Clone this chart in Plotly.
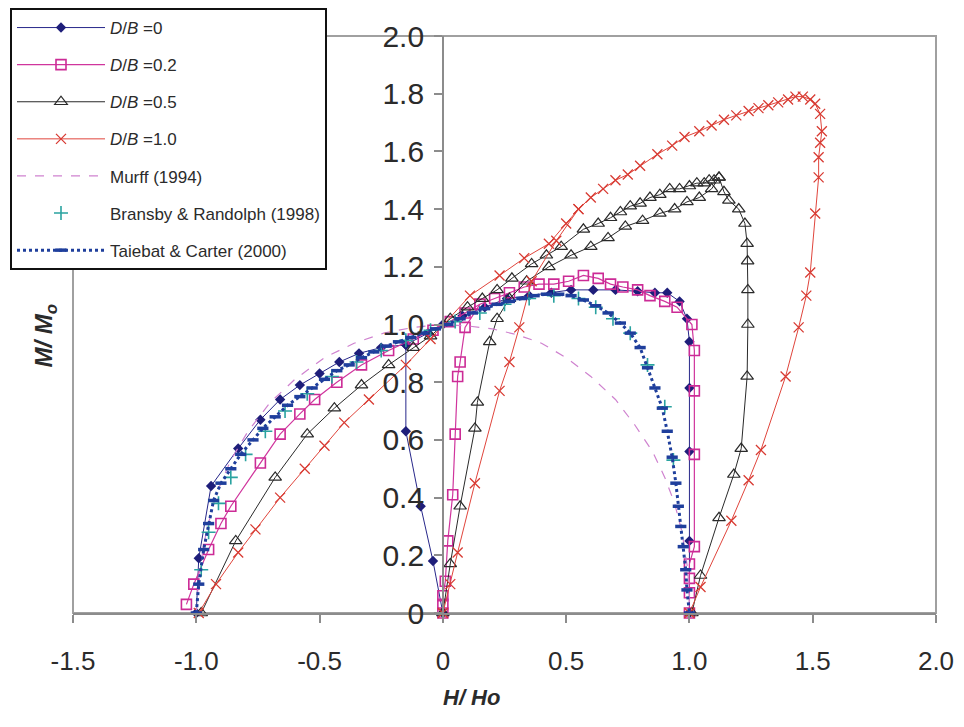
import plotly.graph_objects as go

# ---------------- data ----------------
# D/B = 0  (None separates the two branches of the envelope)
db0_h = [-1.00, -0.99, -0.94, -0.83, -0.74, -0.66, -0.58, -0.50, -0.42, -0.34, -0.25, -0.15, -0.06, 0.00,
         0.08, 0.17, 0.26, 0.35, 0.44, 0.52, 0.61, 0.70, 0.79, 0.86, 0.91, 0.96, 0.99, 1.00, 1.00, 1.00, 1.00, 1.00,
         None, 0.00, -0.04, -0.09, -0.15, -0.15]
db0_m = [0.00, 0.19, 0.44, 0.57, 0.67, 0.74, 0.79, 0.83, 0.87, 0.90, 0.92, 0.93, 0.97, 1.00,
         1.03, 1.06, 1.09, 1.10, 1.11, 1.12, 1.12, 1.12, 1.115, 1.11, 1.11, 1.08, 1.02, 0.94, 0.78, 0.56, 0.25, 0.00,
         None, 0.00, 0.18, 0.37, 0.63, 0.93]

# D/B = 0.2
db02_h = [-1.04, -1.01, -0.95, -0.90, -0.86, -0.74, -0.66, -0.58, -0.52, -0.43, -0.33, -0.22, -0.12, -0.04,
          0.03, 0.09, 0.15, 0.21, 0.27, 0.33, 0.39, 0.45, 0.51, 0.57, 0.63, 0.68, 0.73, 0.79, 0.84, 0.90, 0.95,
          1.01, 1.02, 1.02, 1.02, 1.02, 1.00, 1.00, 1.00, 1.00,
          None, 0.00, 0.00, 0.00, 0.01, 0.02, 0.04, 0.05, 0.06, 0.07, 0.09, 0.15]
db02_m = [0.03, 0.10, 0.22, 0.31, 0.37, 0.52, 0.62, 0.69, 0.74, 0.80, 0.86, 0.91, 0.95, 0.98,
          1.01, 1.04, 1.07, 1.09, 1.11, 1.13, 1.14, 1.14, 1.15, 1.17, 1.16, 1.14, 1.13, 1.12, 1.10, 1.08, 1.06,
          1.00, 0.91, 0.77, 0.55, 0.23, 0.17, 0.12, 0.07, 0.00,
          None, 0.00, 0.03, 0.06, 0.11, 0.25, 0.41, 0.62, 0.82, 0.87, 0.99, 1.07]

# D/B = 0.5
db05_h = [-0.98, -0.84, -0.68, -0.55, -0.44, -0.33, -0.22, -0.12, -0.05, 0.03, 0.10, 0.16, 0.22, 0.28, 0.36,
          0.42, 0.48, 0.57, 0.63, 0.68, 0.72, 0.76, 0.80, 0.84, 0.88, 0.92, 0.96, 1.00, 1.03, 1.06, 1.08, 1.10,
          1.12, 1.14, 1.16, 1.20, 1.225, 1.234, 1.236, 1.237, 1.237, 1.234, 1.21, 1.18, 1.12, 1.045, 1.01,
          None, 0.00, 0.03, 0.07, 0.13, 0.14, 0.19, 0.22, 0.27, 0.34, 0.43, 0.52, 0.60, 0.67, 0.74, 0.81, 0.88,
          0.94, 0.99, 1.04, 1.09, 1.12]
db05_m = [0.00, 0.25, 0.47, 0.62, 0.71, 0.79, 0.86, 0.92, 0.96, 1.02, 1.06, 1.09, 1.12, 1.16, 1.21,
          1.24, 1.27, 1.33, 1.35, 1.37, 1.39, 1.41, 1.42, 1.44, 1.45, 1.47, 1.47, 1.48, 1.49, 1.49, 1.50, 1.50,
          1.51, 1.46, 1.43, 1.40, 1.35, 1.28, 1.22, 1.12, 1.00, 0.82, 0.57, 0.48, 0.33, 0.13, 0.00,
          None, 0.00, 0.17, 0.37, 0.64, 0.73, 0.94, 1.02, 1.09, 1.15, 1.20, 1.24, 1.27, 1.30, 1.34, 1.36, 1.385,
          1.40, 1.425, 1.44, 1.47, 1.51]

# D/B = 1.0
db10_h = [-0.99, -0.92, -0.83, -0.76, -0.66, -0.56, -0.48, -0.40, -0.30, -0.15, -0.05, 0.11, 0.23, 0.33, 0.43,
          0.50, 0.55, 0.60, 0.65, 0.70, 0.75, 0.80, 0.87, 0.93, 0.98, 1.04, 1.09, 1.14, 1.19, 1.24, 1.28, 1.32,
          1.36, 1.40, 1.43, 1.46, 1.49, 1.51, 1.53, 1.537, 1.53, 1.524, 1.524, 1.51, 1.49, 1.474, 1.443, 1.39,
          1.29, 1.24, 1.17, 1.045, 1.00,
          None, 0.00, 0.03, 0.06, 0.13, 0.23, 0.27, 0.31, 0.36, 0.46, 0.55]
db10_m = [0.00, 0.10, 0.21, 0.29, 0.40, 0.50, 0.58, 0.66, 0.74, 0.86, 0.95, 1.10, 1.17, 1.23, 1.28,
          1.35, 1.40, 1.44, 1.47, 1.50, 1.52, 1.55, 1.59, 1.62, 1.65, 1.67, 1.69, 1.71, 1.725, 1.74, 1.75, 1.76,
          1.77, 1.78, 1.79, 1.79, 1.78, 1.765, 1.73, 1.67, 1.63, 1.58, 1.51, 1.385, 1.18, 1.10, 0.99, 0.82,
          0.565, 0.46, 0.32, 0.09, 0.00,
          None, 0.00, 0.10, 0.21, 0.45, 0.77, 0.87, 0.99, 1.15, 1.29, 1.40]

# Murff (1994)
murff_h = [-1.00, -0.99, -0.96, -0.92, -0.86, -0.79, -0.70, -0.60, -0.48, -0.36, -0.24, -0.12, 0.00, 0.10,
           0.20, 0.30, 0.40, 0.50, 0.60, 0.70, 0.78, 0.85, 0.90, 0.94, 0.97, 0.99, 1.00, 1.00]
murff_m = [0.00, 0.13, 0.28, 0.41, 0.53, 0.63, 0.73, 0.81, 0.885, 0.935, 0.97, 0.99, 1.00, 0.995,
           0.985, 0.965, 0.935, 0.885, 0.82, 0.74, 0.65, 0.56, 0.47, 0.38, 0.28, 0.17, 0.08, 0.00]

# Bransby & Randolph (1998)
bransby_h = [-0.98, -0.95, -0.91, -0.86, -0.80, -0.72, -0.64, -0.55, -0.45, -0.35, -0.25, -0.15, -0.05, 0.05,
             0.15, 0.25, 0.35, 0.45, 0.55, 0.62, 0.69, 0.76, 0.83, 0.90, 0.935]
bransby_m = [0.15, 0.28, 0.38, 0.47, 0.55, 0.63, 0.70, 0.76, 0.82, 0.87, 0.91, 0.945, 0.98, 1.01,
             1.04, 1.07, 1.09, 1.10, 1.09, 1.06, 1.02, 0.97, 0.86, 0.715, 0.53]

# Taiebat & Carter (2000)
taiebat_h = [-1.00, -0.99, -0.97, -0.95, -0.93, -0.90, -0.86, -0.82, -0.77, -0.73, -0.68, -0.63, -0.58, -0.53,
             -0.48, -0.43, -0.38, -0.33, -0.28, -0.23, -0.18, -0.13, -0.08, -0.03, 0.02, 0.07, 0.12, 0.17, 0.22,
             0.27, 0.32, 0.37, 0.42, 0.47, 0.52, 0.57, 0.62, 0.67, 0.72, 0.76, 0.80, 0.83, 0.86, 0.89, 0.91,
             0.93, 0.945, 0.955, 0.965, 0.975, 0.985, 0.99, 1.00]
taiebat_m = [0.00, 0.10, 0.22, 0.31, 0.39, 0.45, 0.50, 0.55, 0.60, 0.64, 0.68, 0.72, 0.75, 0.78,
             0.81, 0.84, 0.86, 0.885, 0.905, 0.925, 0.94, 0.955, 0.97, 0.985, 1.00, 1.02, 1.04, 1.055, 1.07,
             1.08, 1.09, 1.10, 1.105, 1.105, 1.10, 1.085, 1.065, 1.04, 1.005, 0.97, 0.92, 0.85, 0.78, 0.71, 0.63,
             0.54, 0.45, 0.37, 0.30, 0.23, 0.15, 0.08, 0.00]

x_tickvals = [-1.5, -1.0, -0.5, 0.0, 0.5, 1.0, 1.5, 2.0]
x_ticktext = ["-1.5", "-1.0", "-0.5", "0", "0.5", "1.0", "1.5", "2.0"]
y_tickvals = [0.0, 0.2, 0.4, 0.6, 0.8, 1.0, 1.2, 1.4, 1.6, 1.8, 2.0]
y_ticktext = ["0", "0.2", "0.4", "0.6", "0.8", "1.0", "1.2", "1.4", "1.6", "1.8", "2.0"]

# ---------------- figure ----------------
FONT = "Liberation Sans, Arial, sans-serif"
TXT = "#2b2b2b"

fig = go.Figure()

def add(name, h, m, group, **kw):
    fig.add_trace(go.Scatter(x=h, y=m, name=name, legendgroup=group, cliponaxis=False, **kw))

add("<i>D</i>/<i>B</i> =0", db0_h, db0_m, "a", mode="lines+markers",
    line=dict(color="#27278a", width=1),
    marker=dict(symbol="diamond", size=8, color="#1e1e7a"))
add("<i>D</i>/<i>B</i> =0.2", db02_h, db02_m, "b", mode="lines+markers",
    line=dict(color="#d0359d", width=1.2),
    marker=dict(symbol="square-open", size=10, color="#cc2b96", line=dict(width=1.6, color="#cc2b96")))
add("<i>D</i>/<i>B</i> =0.5", db05_h, db05_m, "c", mode="lines+markers",
    line=dict(color="#2a2a2a", width=1),
    marker=dict(symbol="triangle-up-open", size=11, color="#2a2a2a", line=dict(width=1.2, color="#2a2a2a")))
add("<i>D</i>/<i>B</i> =1.0", db10_h, db10_m, "d", mode="lines+markers",
    line=dict(color="#e0453c", width=1),
    marker=dict(symbol="x-thin", size=10, color="#d83a32", line=dict(width=1.3, color="#d83a32")))
add("Murff (1994)", murff_h, murff_m, "e", mode="lines",
    line=dict(color="#cf82cf", width=1.2, dash="dash"))
add("Bransby & Randolph (1998)", bransby_h, bransby_m, "f", mode="markers",
    marker=dict(symbol="cross-thin", size=10, color="#2aa3a0", line=dict(width=1.6, color="#2aa3a0")))
add("Taiebat & Carter (2000)", taiebat_h, taiebat_m, "g", mode="lines+markers",
    line=dict(color="#1f3f9c", width=3, dash="dot"),
    marker=dict(symbol="line-ew", size=8, color="#1f3f9c", line=dict(width=3.5, color="#1f3f9c")))

# the page body adds an 8 px offset, so the figure is laid out in page pixels minus 8
OFF = 8
W, H = 964 - OFF, 727 - OFF
L, T = 73 - OFF, 36 - OFF
R = W - (936 - OFF)
B = H - (613 - OFF)
pw, ph = W - L - R, H - T - B

def px_x(p):
    return (p - OFF - L) / pw

def px_y(p):
    return (H - B - (p - OFF)) / ph

fig.update_layout(
    width=W, height=H,
    margin=dict(l=L, r=R, t=T, b=B, autoexpand=False),
    paper_bgcolor="white", plot_bgcolor="white",
    font=dict(family=FONT, color=TXT),
    xaxis=dict(range=[-1.5, 2.0], tickvals=x_tickvals, ticktext=x_ticktext,
               showgrid=False, zeroline=False, showline=True, linecolor="#8c8c8c", linewidth=2,
               ticks="outside", ticklen=8, tickwidth=1.5, tickcolor="#8c8c8c",
               tickfont=dict(size=26, family=FONT, color=TXT), ticklabelstandoff=16),
    yaxis=dict(range=[0, 2.0], tickvals=y_tickvals, ticktext=y_ticktext,
               anchor="free", position=1.5 / 3.5,
               showgrid=False, zeroline=False, showline=True, linecolor="#8c8c8c", linewidth=1.5,
               ticks="outside", ticklen=8, tickwidth=1.5, tickcolor="#8c8c8c",
               tickfont=dict(size=30, family=FONT, color=TXT), ticklabelstandoff=4),
    showlegend=True,
    legend=dict(x=px_x(10), y=px_y(8), xanchor="left", yanchor="top",
                bgcolor="white", bordercolor="#111111", borderwidth=2,
                font=dict(size=17, family=FONT, color=TXT),
                itemwidth=88, tracegroupgap=12),
    shapes=[dict(type="rect", xref="paper", yref="paper", x0=0, x1=1, y0=0, y1=1,
                 line=dict(color="#a0a0a0", width=2), layer="below")],
    annotations=[
        dict(text="<b><i>H/ Ho</i></b>", xref="paper", yref="paper", x=px_x(471), y=px_y(712),
             showarrow=False, font=dict(size=22, family=FONT, color=TXT)),
        dict(text="<b><i>M/ M<sub>o</sub></i></b>", xref="paper", yref="paper", x=px_x(27), y=px_y(336),
             showarrow=False, textangle=-90, font=dict(size=24, family=FONT, color=TXT)),
    ],
)

fig.write_html("out.html")
